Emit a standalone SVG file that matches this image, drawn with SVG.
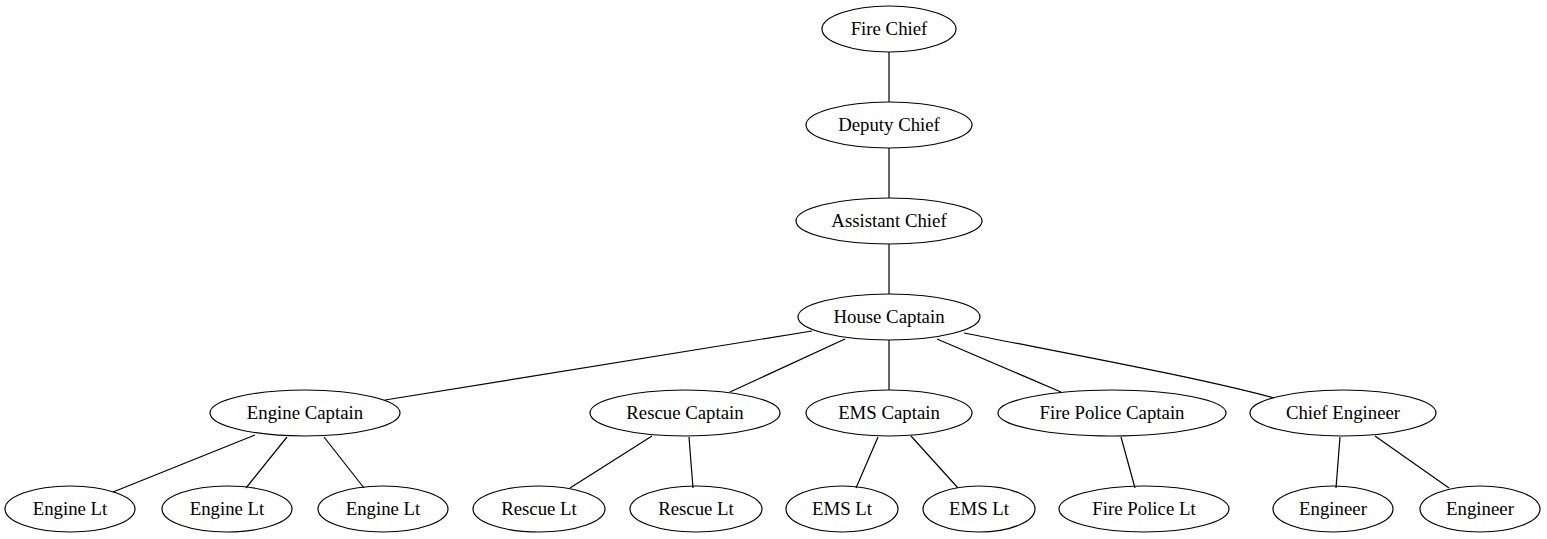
<svg xmlns="http://www.w3.org/2000/svg" width="1547" height="539" viewBox="0 0 1547 539">
<style>
.n ellipse{fill:none;stroke:#000;stroke-width:1.2}
.n text{font-family:"Liberation Serif","Times New Roman",serif;font-size:18.8px;text-anchor:middle;fill:#000}
#edges line,#edges path{stroke:#000;stroke-width:1.2;fill:none}
</style>
<rect width="1547" height="539" fill="#fff"/>
<g id="edges">
<line x1="889" y1="52" x2="889" y2="102"/>
<line x1="889" y1="148" x2="889" y2="198"/>
<line x1="889" y1="244" x2="889" y2="294"/>
<line x1="812" y1="331" x2="385" y2="400"/>
<line x1="845" y1="339" x2="730" y2="392"/>
<line x1="889" y1="340" x2="889" y2="390"/>
<line x1="937" y1="339" x2="1061" y2="392"/>
<path d="M964,333 C1080,356 1200,378 1274,398"/>
<line x1="255" y1="435" x2="113" y2="492"/>
<line x1="287" y1="437" x2="246" y2="488"/>
<line x1="324" y1="437" x2="364" y2="488"/>
<line x1="652" y1="436" x2="570" y2="488"/>
<line x1="689" y1="437" x2="693" y2="488"/>
<line x1="878" y1="437" x2="856" y2="488"/>
<line x1="911" y1="436" x2="958" y2="488"/>
<line x1="1121" y1="437" x2="1135" y2="488"/>
<line x1="1340" y1="437" x2="1336" y2="488"/>
<line x1="1375" y1="436" x2="1449" y2="488"/>
</g>
<g id="fire_chief" class="n"><ellipse cx="889" cy="29" rx="67" ry="23"/><text x="889" y="35">Fire Chief</text></g>
<g id="deputy_chief" class="n"><ellipse cx="889" cy="125" rx="83" ry="23"/><text x="889" y="131">Deputy Chief</text></g>
<g id="assistant_chief" class="n"><ellipse cx="889" cy="221" rx="93" ry="23"/><text x="889" y="227">Assistant Chief</text></g>
<g id="house_captain" class="n"><ellipse cx="889" cy="317" rx="91" ry="23"/><text x="889" y="323">House Captain</text></g>
<g id="engine_captain" class="n"><ellipse cx="305" cy="413" rx="95" ry="23"/><text x="305" y="419">Engine Captain</text></g>
<g id="rescue_captain" class="n"><ellipse cx="685" cy="413" rx="95" ry="23"/><text x="685" y="419">Rescue Captain</text></g>
<g id="ems_captain" class="n"><ellipse cx="889" cy="413" rx="83" ry="23"/><text x="889" y="419">EMS Captain</text></g>
<g id="fire_police_captain" class="n"><ellipse cx="1112" cy="413" rx="114" ry="23"/><text x="1112" y="419">Fire Police Captain</text></g>
<g id="chief_engineer" class="n"><ellipse cx="1343" cy="413" rx="93" ry="23"/><text x="1343" y="419">Chief Engineer</text></g>
<g id="engine_lt_1" class="n"><ellipse cx="70" cy="509" rx="65" ry="23"/><text x="70" y="515">Engine Lt</text></g>
<g id="engine_lt_2" class="n"><ellipse cx="227" cy="509" rx="65" ry="23"/><text x="227" y="515">Engine Lt</text></g>
<g id="engine_lt_3" class="n"><ellipse cx="383" cy="509" rx="65" ry="23"/><text x="383" y="515">Engine Lt</text></g>
<g id="rescue_lt_1" class="n"><ellipse cx="539" cy="509" rx="66" ry="23"/><text x="539" y="515">Rescue Lt</text></g>
<g id="rescue_lt_2" class="n"><ellipse cx="696" cy="509" rx="66" ry="23"/><text x="696" y="515">Rescue Lt</text></g>
<g id="ems_lt_1" class="n"><ellipse cx="842" cy="509" rx="56" ry="23"/><text x="842" y="515">EMS Lt</text></g>
<g id="ems_lt_2" class="n"><ellipse cx="979" cy="509" rx="56" ry="23"/><text x="979" y="515">EMS Lt</text></g>
<g id="fire_police_lt" class="n"><ellipse cx="1144" cy="509" rx="85" ry="23"/><text x="1144" y="515">Fire Police Lt</text></g>
<g id="engineer_1" class="n"><ellipse cx="1333" cy="509" rx="60" ry="23"/><text x="1333" y="515">Engineer</text></g>
<g id="engineer_2" class="n"><ellipse cx="1480" cy="509" rx="60" ry="23"/><text x="1480" y="515">Engineer</text></g>
</svg>
